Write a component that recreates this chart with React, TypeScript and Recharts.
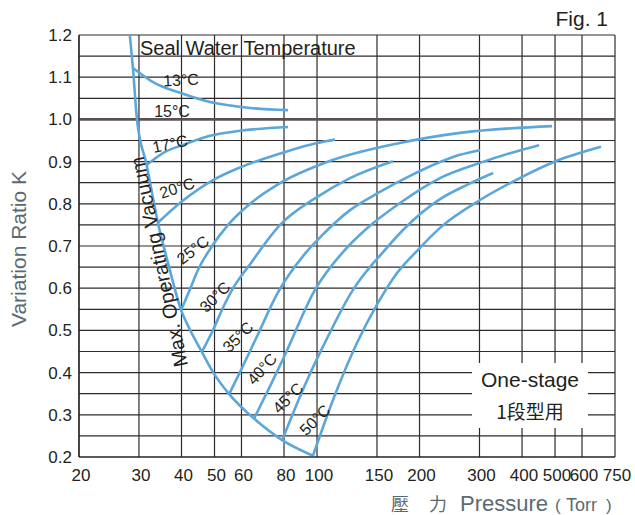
import React from 'react';
import { LineChart, Line, XAxis, YAxis, CartesianGrid, ReferenceLine } from 'recharts';

// pressure (Torr) ticks on the log axis
const pressureTicks = [20, 30, 40, 50, 60, 80, 100, 150, 200, 300, 400, 500, 600, 750];
// K ticks, every 0.05 gets a grid line, every 0.1 gets a label
const kTicks = [0.2, 0.25, 0.3, 0.35, 0.4, 0.45, 0.5, 0.55, 0.6, 0.65, 0.7, 0.75, 0.8, 0.85, 0.9, 0.95, 1.0, 1.05, 1.1, 1.15, 1.2];

// max operating vacuum boundary [pressure, K]
const vacuumLimit: [number, number][] = [
  [28.2, 1.2], [28.8, 1.122], [29.6, 1.0], [31.6, 0.892], [34.1, 0.755], [36.5, 0.66],
  [39.9, 0.548], [42.4, 0.501], [45.9, 0.449], [49.5, 0.401], [55.2, 0.349], [65.3, 0.291],
  [79.0, 0.24], [97.3, 0.203],
];

// seal water temperature curves [pressure, K]
const curve13: [number, number][] = [[28.8, 1.122], [33.4, 1.086], [39.6, 1.063], [48.5, 1.041], [63.6, 1.027], [82.2, 1.022]];
const curve17: [number, number][] = [[31.6, 0.892], [35.8, 0.923], [40.3, 0.939], [48.5, 0.961], [59.4, 0.973], [82.2, 0.982]];
const curve20: [number, number][] = [[34.1, 0.755], [39.9, 0.804], [49.5, 0.856], [59.8, 0.887], [80.6, 0.923], [100, 0.944], [113, 0.952]];
const curve25: [number, number][] = [
  [39.9, 0.548], [42.4, 0.598], [44.7, 0.643], [49.2, 0.7], [54.8, 0.75], [63.6, 0.8],
  [77.9, 0.849], [107, 0.899], [175, 0.944], [263, 0.968], [490, 0.984],
];
const curve30: [number, number][] = [
  [45.9, 0.449], [49.5, 0.501], [52.9, 0.553], [56.3, 0.596], [63.6, 0.657], [77.9, 0.75],
  [100, 0.816], [125, 0.861], [167, 0.901],
];
const curve35: [number, number][] = [
  [55.2, 0.349], [59.4, 0.401], [67.1, 0.491], [76.3, 0.586], [92.9, 0.685], [103.4, 0.725],
  [125, 0.785], [153, 0.828], [187.5, 0.866], [229.7, 0.899], [263, 0.916], [301, 0.927],
];
const curve40: [number, number][] = [
  [65.3, 0.291], [72.8, 0.368], [80, 0.437], [98.6, 0.596], [120.8, 0.691], [138.4, 0.738],
  [175.3, 0.802], [229.7, 0.861], [301, 0.897], [368.8, 0.92], [449, 0.939],
];
const curve45: [number, number][] = [
  [79.0, 0.24], [93.5, 0.382], [104.6, 0.465], [127.5, 0.596], [158.4, 0.691], [178.9, 0.738],
  [229.7, 0.811], [275.8, 0.845], [329, 0.873],
];
const curve50: [number, number][] = [
  [97.3, 0.203], [111.4, 0.335], [131, 0.47], [151, 0.565], [171.8, 0.636], [198, 0.691],
  [229.7, 0.743], [301, 0.809], [394, 0.861], [496, 0.899], [682, 0.935],
];

const curves = [curve13, curve17, curve20, curve25, curve30, curve35, curve40, curve45, curve50];

const toPoints = (c: [number, number][]) => c.map(([p, k]) => ({ p, k }));

const FONT = '"Liberation Sans", Arial, sans-serif';
const CJK = '"Noto Sans CJK TC", "Noto Sans CJK SC", sans-serif';
const BLUE = '#5ba7d9';
const INK = '#231f20';
const GREY = '#5b6a72';

// temperature labels: text, centre x/y, rotation
const tempLabels: [string, number, number, number][] = [
  ['13°C', 181, 80, -3],
  ['15°C', 172, 111, 0],
  ['17°C', 170, 144, -12],
  ['20°C', 177, 188, -18],
  ['25°C', 193, 250, -38],
  ['30°C', 215, 297, -45],
  ['35°C', 238, 337, -45],
  ['40°C', 262, 369, -48],
  ['45°C', 288, 398, -45],
  ['50°C', 315, 420, -45],
];

export default function App() {
  return (
    <div style={{ position: 'absolute', left: 0, top: 0, width: 635, height: 515, background: '#fff' }}>
      <LineChart width={635} height={515} margin={{ top: 35, right: 20, bottom: 0, left: 0 }}>
        <CartesianGrid stroke="#2f2a2b" strokeWidth={1.2} />
        <XAxis
          dataKey="p"
          type="number"
          scale="log"
          domain={[20, 750]}
          ticks={pressureTicks}
          interval={0}
          allowDataOverflow
          height={58}
          tickSize={0}
          tickMargin={12}
          axisLine={{ stroke: INK, strokeWidth: 1.2 }}
          tickLine={false}
          tick={{ fontFamily: FONT, fontSize: 17, fill: INK, dx: 2 }}
        />
        <YAxis
          dataKey="k"
          type="number"
          domain={[0.2, 1.2]}
          ticks={kTicks}
          interval={0}
          allowDataOverflow
          width={79}
          tickSize={0}
          tickMargin={7}
          axisLine={{ stroke: INK, strokeWidth: 1.2 }}
          tickLine={false}
          tick={{ fontFamily: FONT, fontSize: 17, fill: INK }}
          tickFormatter={(v: number) => (Math.round(v * 100) % 10 === 0 ? v.toFixed(1) : '')}
        />
        {/* 15°C line */}
        <ReferenceLine y={1.0} stroke="#595253" strokeWidth={2.6} />
        <Line
          data={toPoints(vacuumLimit)}
          dataKey="k"
          type="monotone"
          stroke={BLUE}
          strokeWidth={2.6}
          dot={false}
          activeDot={false}
          isAnimationActive={false}
        />
        {curves.map((c, i) => (
          <Line
            key={i}
            data={toPoints(c)}
            dataKey="k"
            type="monotone"
            stroke={BLUE}
            strokeWidth={2.6}
            dot={false}
            activeDot={false}
            isAnimationActive={false}
          />
        ))}
      </LineChart>

      <svg width={635} height={515} style={{ position: 'absolute', left: 0, top: 0, pointerEvents: 'none' }}>
        <text x={608} y={26} textAnchor="end" fontFamily={FONT} fontSize={21} fill={INK}>Fig. 1</text>
        <text x={140} y={55} fontFamily={FONT} fontSize={20} fill={INK}>Seal Water Temperature</text>
        <text
          transform="translate(159,262) rotate(-102)"
          textAnchor="middle"
          dominantBaseline="central"
          fontFamily={FONT}
          fontSize={20}
          fill={INK}
        >
          Max. Operating Vacuum
        </text>
        {tempLabels.map(([t, x, y, r]) => (
          <text
            key={t}
            transform={`translate(${x},${y}) rotate(${r})`}
            textAnchor="middle"
            dominantBaseline="central"
            fontFamily={FONT}
            fontSize={16}
            fill={INK}
          >
            {t}
          </text>
        ))}

        <rect x={472} y={363} width={116} height={65} fill="#fff" />
        <text x={530} y={387} textAnchor="middle" fontFamily={FONT} fontSize={21} fill={INK}>One-stage</text>
        <text x={530} y={419} textAnchor="middle" fontFamily={CJK} fontSize={19} fill={INK}>1段型用</text>

        <text
          transform="translate(26,249) rotate(-90)"
          textAnchor="middle"
          fontFamily={FONT}
          fontSize={21}
          fill={GREY}
        >
          Variation Ratio K
        </text>
        <text y={511} fontFamily={FONT} fill={GREY}>
          <tspan x={391} fontFamily={CJK} fontSize={18}>壓</tspan>
          <tspan x={429} fontFamily={CJK} fontSize={18}>力</tspan>
          <tspan x={460} fontSize={22}>Pressure</tspan>
          <tspan x={555} fontSize={17}>(</tspan>
          <tspan x={566} fontSize={18}>Torr</tspan>
          <tspan x={606} fontSize={17}>)</tspan>
        </text>
      </svg>
    </div>
  );
}
